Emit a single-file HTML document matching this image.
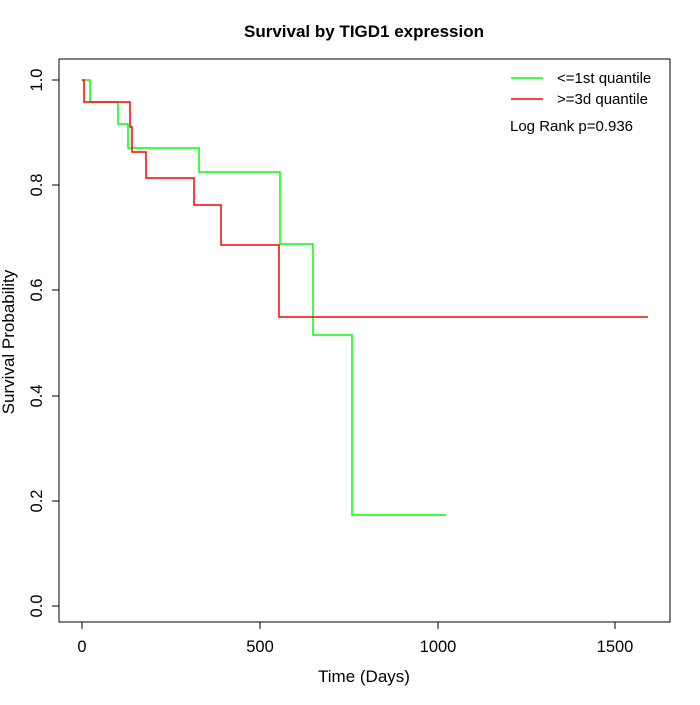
<!DOCTYPE html>
<html><head><style>body{margin:0;background:#fff}</style></head><body>
<svg width="700" height="700" xmlns="http://www.w3.org/2000/svg" font-family="Liberation Sans, sans-serif">
<rect width="700" height="700" fill="#fff"/>
<text x="364" y="37" font-size="17" font-weight="bold" text-anchor="middle">Survival by TIGD1 expression</text>
<rect x="59" y="59" width="611" height="563" fill="none" stroke="#000" stroke-width="1"/>
<g stroke="#000" stroke-width="1">
<line x1="82" y1="622" x2="615" y2="622"/>
<line x1="82" y1="622" x2="82" y2="629"/><line x1="260" y1="622" x2="260" y2="629"/>
<line x1="438" y1="622" x2="438" y2="629"/><line x1="615" y1="622" x2="615" y2="629"/>
<line x1="59" y1="80" x2="59" y2="606"/>
<line x1="52" y1="80" x2="59" y2="80"/><line x1="52" y1="185" x2="59" y2="185"/>
<line x1="52" y1="290" x2="59" y2="290"/><line x1="52" y1="396" x2="59" y2="396"/>
<line x1="52" y1="501" x2="59" y2="501"/><line x1="52" y1="606" x2="59" y2="606"/>
</g>
<g font-size="16.5" text-anchor="middle">
<text x="82" y="652">0</text><text x="260" y="652">500</text><text x="438" y="652">1000</text><text x="615" y="652">1500</text>
<text x="364" y="682" font-size="17">Time (Days)</text>
<text transform="translate(42,80) rotate(-90)">1.0</text>
<text transform="translate(42,185) rotate(-90)">0.8</text>
<text transform="translate(42,290) rotate(-90)">0.6</text>
<text transform="translate(42,396) rotate(-90)">0.4</text>
<text transform="translate(42,501) rotate(-90)">0.2</text>
<text transform="translate(42,606) rotate(-90)">0.0</text>
<text transform="translate(14,342) rotate(-90)" font-size="17">Survival Probability</text>
</g>
<polyline fill="none" stroke="#00ff00" stroke-width="1.5" points="82,80 90,80 90,102 118,102 118,124 128,124 128,148 199,148 199,172 280,172 280,244 313,244 313,335 352,335 352,425 352,425 352,515 446,515"/>
<polyline fill="none" stroke="#ff0000" stroke-width="1.5" points="82,80 84,80 84,102 130,102 130,127 132,127 132,152 146,152 146,178 194,178 194,205 221,205 221,245 279,245 279,317 648,317"/>
<line x1="511" y1="78" x2="543" y2="78" stroke="#00ff00" stroke-width="1.5"/>
<line x1="511" y1="99" x2="543" y2="99" stroke="#ff0000" stroke-width="1.5"/>
<g font-size="15">
<text x="557" y="83">&lt;=1st quantile</text>
<text x="557" y="104">&gt;=3d quantile</text>
<text x="510" y="131">Log Rank p=0.936</text>
</g>
</svg>
</body></html>
